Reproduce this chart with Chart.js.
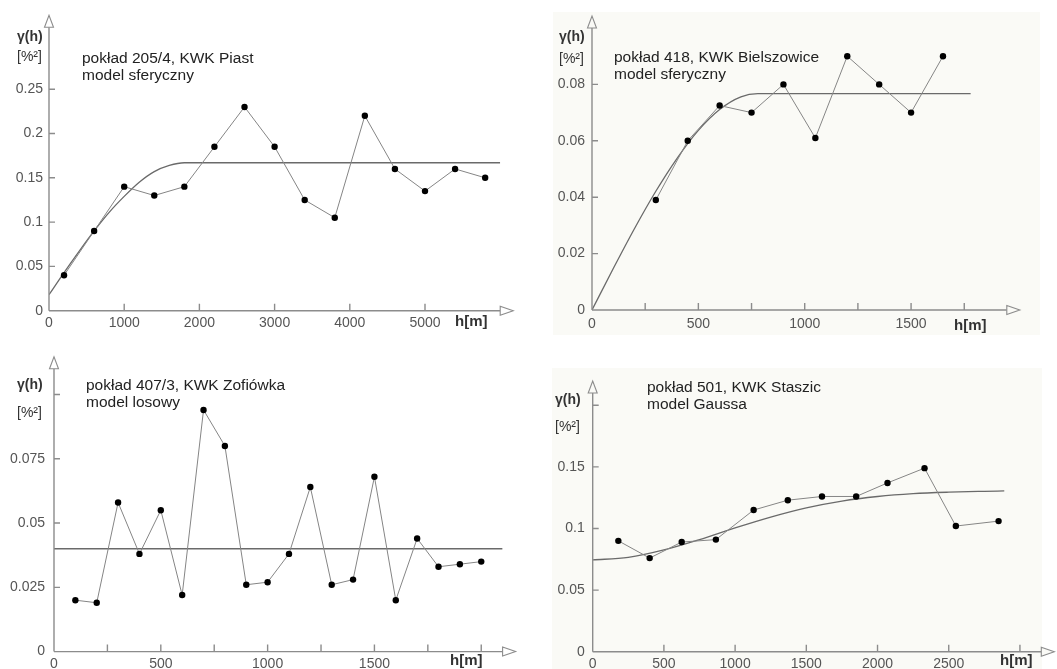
<!DOCTYPE html>
<html><head><meta charset="utf-8">
<script src="https://cdn.jsdelivr.net/npm/chart.js@4.4.0/dist/chart.umd.min.js"></script>
<style>
html,body{margin:0;padding:0;background:#fff;}
body{width:1057px;height:669px;position:relative;overflow:hidden;font-family:"Liberation Sans",Arial,sans-serif;}
canvas{position:absolute;display:block;}
.bg{position:absolute;background:#fafaf6;}
</style></head><body>
<div class="bg" style="left:553px;top:12px;width:487px;height:323px"></div>
<div class="bg" style="left:552px;top:368px;width:490px;height:301px"></div>
<canvas id="c1" width="528" height="335" style="left:0;top:0"></canvas>
<canvas id="c2" width="529" height="335" style="left:528px;top:0"></canvas>
<canvas id="c3" width="528" height="334" style="left:0;top:335px"></canvas>
<canvas id="c4" width="529" height="334" style="left:528px;top:335px"></canvas>
<script>
// ---------- Panel 1: pokład 205/4, KWK Piast (model sferyczny)
const p1H = [200, 600, 1000, 1400, 1800, 2200, 2600, 3000, 3400, 3800, 4200, 4600, 5000, 5400, 5800];
const p1Gamma = [0.040, 0.090, 0.140, 0.130, 0.140, 0.185, 0.230, 0.185, 0.125, 0.105, 0.220, 0.160, 0.135, 0.160, 0.150];
const p1ModelH = [0, 200, 400, 600, 800, 1000, 1200, 1400, 1600, 1800, 6000];
const p1ModelGamma = [0.018, 0.043, 0.067, 0.090, 0.111, 0.129, 0.145, 0.157, 0.164, 0.167, 0.167];
const p1XTicks = [0, 1000, 2000, 3000, 4000, 5000];
const p1XLabels = ['0', '1000', '2000', '3000', '4000', '5000'];
const p1YTicks = [0, 0.05, 0.1, 0.15, 0.2, 0.25];
const p1YLabels = ['0', '0.05', '0.1', '0.15', '0.2', '0.25'];

// ---------- Panel 2: pokład 418, KWK Bielszowice (model sferyczny)
const p2H = [300, 450, 600, 750, 900, 1050, 1200, 1350, 1500, 1650];
const p2Gamma = [0.039, 0.060, 0.0725, 0.070, 0.080, 0.061, 0.090, 0.080, 0.070, 0.090];
const p2ModelH = [0, 100, 200, 300, 400, 500, 600, 700, 780, 1780];
const p2ModelGamma = [0, 0.0147, 0.0289, 0.0421, 0.0538, 0.0637, 0.0711, 0.0756, 0.0767, 0.0767];
const p2XTicks = [0, 250, 500, 750, 1000, 1250, 1500, 1750];
const p2XLabels = ['0', '', '500', '', '1000', '', '1500', ''];
const p2YTicks = [0, 0.02, 0.04, 0.06, 0.08];
const p2YLabels = ['0', '0.02', '0.04', '0.06', '0.08'];

// ---------- Panel 3: pokład 407/3, KWK Zofiówka (model losowy)
const p3H = [100, 200, 300, 400, 500, 600, 700, 800, 900, 1000, 1100, 1200, 1300, 1400, 1500, 1600, 1700, 1800, 1900, 2000];
const p3Gamma = [0.020, 0.019, 0.058, 0.038, 0.055, 0.022, 0.094, 0.080, 0.026, 0.027, 0.038, 0.064, 0.026, 0.028, 0.068, 0.020, 0.044, 0.033, 0.034, 0.035];
const p3ModelH = [0, 2100];
const p3ModelGamma = [0.040, 0.040];
const p3XTicks = [0, 250, 500, 750, 1000, 1250, 1500, 1750, 2000];
const p3XLabels = ['0', '', '500', '', '1000', '', '1500', '', ''];
const p3YTicks = [0, 0.025, 0.05, 0.075, 0.1];
const p3YLabels = ['0', '0.025', '0.05', '0.075', ''];

// ---------- Panel 4: pokład 501, KWK Staszic (model Gaussa)
const p4H = [180, 400, 625, 865, 1130, 1370, 1610, 1850, 2070, 2330, 2550, 2850];
const p4Gamma = [0.090, 0.076, 0.089, 0.091, 0.115, 0.123, 0.126, 0.126, 0.137, 0.149, 0.102, 0.106];
const p4ModelH = [0, 250, 500, 750, 1000, 1250, 1500, 1750, 2000, 2250, 2500, 2750, 2890];
const p4ModelGamma = [0.0745, 0.0766, 0.0826, 0.0910, 0.1005, 0.1093, 0.1168, 0.1223, 0.1260, 0.1283, 0.1295, 0.1302, 0.1305];
const p4XTicks = [0, 500, 1000, 1500, 2000, 2500, 3000];
const p4XLabels = ['0', '500', '1000', '1500', '2000', '2500', ''];
const p4YTicks = [0, 0.05, 0.1, 0.15, 0.2];
const p4YLabels = ['0', '0.05', '0.1', '0.15', ''];

const FONT = '"Liberation Sans", Arial, sans-serif';

const decoPlugin = {
  id: 'deco',
  afterDraw(chart, args, o) {
    const ctx = chart.ctx, a = chart.chartArea, xs = chart.scales.x, ys = chart.scales.y;
    ctx.save();
    ctx.strokeStyle = '#8c8c8c';
    ctx.lineWidth = 1.4;
    ctx.beginPath();
    ctx.moveTo(a.left, a.bottom); ctx.lineTo(a.right, a.bottom);
    ctx.moveTo(a.left, a.bottom); ctx.lineTo(a.left, a.top);
    xs.ticks.forEach(t => { if (t.value <= 0) return; const px = xs.getPixelForValue(t.value); ctx.moveTo(px, a.bottom); ctx.lineTo(px, a.bottom - 7); });
    ys.ticks.forEach(t => { if (t.value <= 0) return; const py = ys.getPixelForValue(t.value); ctx.moveTo(a.left, py); ctx.lineTo(a.left + 6, py); });
    ctx.stroke();
    ctx.lineWidth = 1.1;
    ctx.beginPath();
    ctx.moveTo(a.right, a.bottom - 4.5); ctx.lineTo(a.right + 13, a.bottom); ctx.lineTo(a.right, a.bottom + 4.5); ctx.closePath();
    ctx.moveTo(a.left - 4.5, a.top); ctx.lineTo(a.left, a.top - 12); ctx.lineTo(a.left + 4.5, a.top); ctx.closePath();
    ctx.fillStyle = o.bg || '#fff';
    ctx.fill(); ctx.stroke();
    // texts
    ctx.textBaseline = 'alphabetic';
    ctx.textAlign = 'left';
    o.texts.forEach(t => {
      ctx.font = t.f; ctx.fillStyle = t.c;
      ctx.fillText(t.s, t.x - o.ox, t.y - o.oy);
    });
    ctx.restore();
  }
};

function makePanel(id, cfg) {
  const cv = document.getElementById(id);
  const W = cv.width, H = cv.height;
  const ds = [
    { data: cfg.h.map((v, i) => ({ x: v, y: cfg.g[i] })), showLine: true, borderColor: '#858585', borderWidth: 1,
      pointRadius: 3.2, pointBackgroundColor: '#000', pointBorderColor: '#000', pointBorderWidth: 0, order: 0 },
    { data: cfg.mh.map((v, i) => ({ x: v, y: cfg.mg[i] })), showLine: true, borderColor: '#6a6a6a', borderWidth: 1.3,
      pointRadius: 0, cubicInterpolationMode: 'monotone', order: 1 }
  ];
  new Chart(cv, {
    type: 'scatter',
    data: { datasets: ds },
    options: {
      responsive: false, animation: false, devicePixelRatio: 1,
      layout: { padding: { left: 0, top: cfg.top - cfg.ct, right: cfg.cl + W - cfg.right, bottom: 0 } },
      plugins: { legend: { display: false }, tooltip: { enabled: false },
        deco: { texts: cfg.texts, ox: cfg.cl, oy: cfg.ct, bg: cfg.bg } },
      scales: {
        x: { type: 'linear', position: 'bottom', min: 0, max: cfg.xmax,
          grid: { display: false, drawTicks: false }, border: { display: false },
          afterBuildTicks: s => { s.ticks = cfg.xt.map(v => ({ value: v })); },
          afterFit: s => { s.height = cfg.ct + H - cfg.oy; },
          ticks: { padding: cfg.xpad, color: '#555', font: { family: FONT, size: 14 }, maxRotation: 0, autoSkip: false,
            callback: (v, i) => cfg.xl[i] } },
        y: { type: 'linear', min: 0, max: cfg.ymax,
          grid: { display: false, drawTicks: false }, border: { display: false },
          afterBuildTicks: s => { s.ticks = cfg.yt.map(v => ({ value: v })); },
          afterFit: s => { s.width = cfg.ox - cfg.cl; },
          ticks: { padding: cfg.ypad, color: '#555', font: { family: FONT, size: 14 }, autoSkip: false,
            callback: (v, i) => cfg.yl[i] } }
      }
    },
    plugins: [decoPlugin]
  });
}

const TXT = '15.5px ' + FONT, AX = 'bold 14px ' + FONT, HM = 'bold 15px ' + FONT;

makePanel('c1', { cl: 0, ct: 0, ox: 49, oy: 310.7, right: 500.2, top: 27.2, xmax: 6000, ymax: 0.32,
  h: p1H, g: p1Gamma, mh: p1ModelH, mg: p1ModelGamma, xt: p1XTicks, xl: p1XLabels, yt: p1YTicks, yl: p1YLabels,
  xpad: 4, ypad: 6, bg: '#fff',
  texts: [
    { s: 'γ(h)', x: 17, y: 41, f: AX, c: '#333' },
    { s: '[%²]', x: 17, y: 61, f: AX.replace('bold ', ''), c: '#333' },
    { s: 'pokład 205/4, KWK Piast', x: 82, y: 63, f: TXT, c: '#222' },
    { s: 'model sferyczny', x: 82, y: 80, f: TXT, c: '#222' },
    { s: 'h[m]', x: 455, y: 326, f: HM, c: '#333' }
  ] });

makePanel('c2', { cl: 528, ct: 0, ox: 592, oy: 310, right: 1006.8, top: 28, xmax: 1950, ymax: 0.1,
  h: p2H, g: p2Gamma, mh: p2ModelH, mg: p2ModelGamma, xt: p2XTicks, xl: p2XLabels, yt: p2YTicks, yl: p2YLabels,
  xpad: 6, ypad: 7, bg: '#fafaf6',
  texts: [
    { s: 'γ(h)', x: 559, y: 41, f: AX, c: '#333' },
    { s: '[%²]', x: 559, y: 63, f: AX.replace('bold ', ''), c: '#333' },
    { s: 'pokład 418, KWK Bielszowice', x: 614, y: 62, f: TXT, c: '#222' },
    { s: 'model sferyczny', x: 614, y: 79, f: TXT, c: '#222' },
    { s: 'h[m]', x: 954, y: 330, f: HM, c: '#333' }
  ] });

makePanel('c3', { cl: 0, ct: 335, ox: 54, oy: 652.3, right: 502.6, top: 368.8, xmax: 2100, ymax: 0.11,
  h: p3H, g: p3Gamma, mh: p3ModelH, mg: p3ModelGamma, xt: p3XTicks, xl: p3XLabels, yt: p3YTicks, yl: p3YLabels,
  xpad: 4, ypad: 9, bg: '#fff',
  texts: [
    { s: 'γ(h)', x: 17, y: 389, f: AX, c: '#333' },
    { s: '[%²]', x: 17, y: 417, f: AX.replace('bold ', ''), c: '#333' },
    { s: 'pokład 407/3, KWK Zofiówka', x: 86, y: 390, f: TXT, c: '#222' },
    { s: 'model losowy', x: 86, y: 407, f: TXT, c: '#222' },
    { s: 'h[m]', x: 450, y: 665, f: HM, c: '#333' }
  ] });

makePanel('c4', { cl: 528, ct: 335, ox: 592.7, oy: 651.7, right: 1041.3, top: 393, xmax: 3150, ymax: 0.21,
  h: p4H, g: p4Gamma, mh: p4ModelH, mg: p4ModelGamma, xt: p4XTicks, xl: p4XLabels, yt: p4YTicks, yl: p4YLabels,
  xpad: 4, ypad: 8, bg: '#fafaf6',
  texts: [
    { s: 'γ(h)', x: 555, y: 404, f: AX, c: '#333' },
    { s: '[%²]', x: 555, y: 431, f: AX.replace('bold ', ''), c: '#333' },
    { s: 'pokład 501, KWK Staszic', x: 647, y: 392, f: TXT, c: '#222' },
    { s: 'model Gaussa', x: 647, y: 409, f: TXT, c: '#222' },
    { s: 'h[m]', x: 1000, y: 665, f: HM, c: '#333' }
  ] });
</script>
</body></html>
